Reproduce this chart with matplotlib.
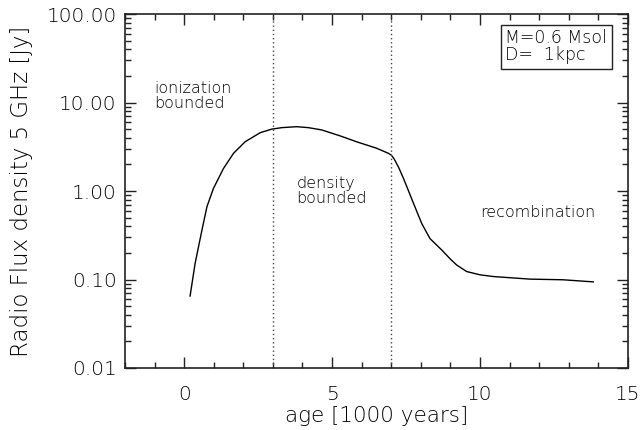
import matplotlib
matplotlib.use("Agg")
import matplotlib.pyplot as plt
from matplotlib.ticker import FixedLocator, NullFormatter

age = [0.2, 0.37, 0.6, 0.77, 0.99, 1.33, 1.67, 2.06, 2.57, 2.96, 3.3, 3.8, 4.2, 4.65,
       5.27, 5.83, 6.51, 6.9, 7.0, 7.1, 7.25, 7.41, 7.75, 8.03, 8.31, 8.71, 9.0, 9.21, 9.55,
       10.0, 10.45, 11.69, 12.8, 13.83]
flux = [0.065, 0.152, 0.36, 0.665, 1.07, 1.8, 2.67, 3.6, 4.56, 5.0, 5.2, 5.33, 5.2, 4.9,
        4.2, 3.6, 3.04, 2.67, 2.55, 2.3, 1.85, 1.4, 0.73, 0.43, 0.29, 0.215, 0.17, 0.146, 0.123,
        0.113, 0.108, 0.101, 0.0993, 0.094]
phase_bounds = [3, 7]
ytick_vals = [0.01, 0.1, 1, 10, 100]
ytick_labels = ["0.01", "0.10", "1.00", "10.00", "100.00"]
xtick_vals = [0, 5, 10, 15]

plt.rcParams['font.family'] = ['DejaVu Sans']
plt.rcParams['font.weight'] = 'light'
plt.rcParams['axes.labelweight'] = 'light'
fig = plt.figure(figsize=(6.42, 4.30), dpi=100)
ax = fig.add_axes([0.1947, 0.1442, 0.7833, 0.8232])

ax.plot(age, flux, color="black", lw=1.0)
for xb in phase_bounds:
    ax.axvline(xb, color="#444444", lw=1.0, ls=(0, (1, 2)))

ax.set_yscale("log")
ax.set_xlim(-2, 15)
ax.set_ylim(0.01, 100)
ax.set_yticks(ytick_vals)
ax.set_yticklabels(ytick_labels)
minor_y = [m * 10.0 ** e for e in range(-2, 2) for m in range(2, 10)]
ax.yaxis.set_minor_locator(FixedLocator(minor_y))
ax.yaxis.set_minor_formatter(NullFormatter())
ax.set_xticks(xtick_vals)
ax.set_xticklabels([str(v) for v in xtick_vals])
ax.xaxis.set_minor_locator(FixedLocator(list(range(-2, 16))))

ax.tick_params(which="both", direction="in", top=True, right=True,
               colors="#222222", labelcolor="black", labelsize=14.5, width=1.0)
ax.tick_params(which="major", length=8)
ax.tick_params(axis="y", which="major", pad=6)
ax.tick_params(axis="x", which="major", pad=12)
ax.tick_params(which="minor", length=4)
for s in ax.spines.values():
    s.set_linewidth(1.2)
    s.set_color("#222222")

ax.set_xlabel("age [1000 years]", fontsize=15.5, color="black", labelpad=2)
ax.set_ylabel("Radio Flux density 5 GHz [Jy]", fontsize=16.5, color="black", labelpad=10)

ax.text(-1.0, 11.8, "ionization\nbounded", fontsize=11.5, color="black",
        va="center", ha="left", linespacing=0.95)
ax.text(3.8, 1.0, "density\nbounded", fontsize=11.5, color="black",
        va="center", ha="left", linespacing=0.95)
ax.text(10.0, 0.57, "recombination", fontsize=11.5, color="black",
        va="center", ha="left")
ax.text(0.7565, 0.958, "M=0.6 Msol\nD=  1kpc", transform=ax.transAxes, fontsize=12.5,
        color="black", va="top", ha="left", linespacing=0.95,
        bbox=dict(boxstyle="square,pad=0.25", fc="white", ec="#222222", lw=1.0))

fig.savefig("out.png", dpi=100)
